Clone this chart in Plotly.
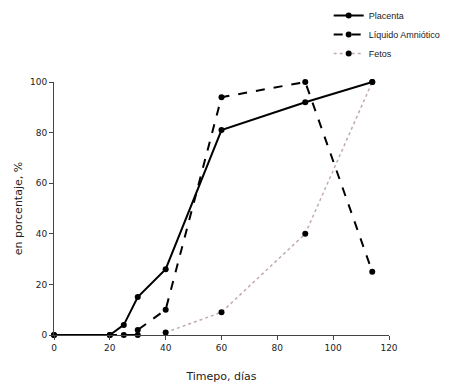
import plotly.graph_objects as go

placenta_x = [0, 20, 25, 30, 40, 60, 90, 114]
placenta_y = [0, 0, 4, 15, 26, 81, 92, 100]

liquido_x = [0, 20, 25, 30, 30, 40, 60, 90, 114]
liquido_y = [0, 0, 0, 0, 2, 10, 94, 100, 25]

fetos_x = [40, 60, 90, 114]
fetos_y = [1, 9, 40, 100]

font = dict(family="DejaVu Sans", size=9, color="#222")

fig = go.Figure()
fig.add_trace(go.Scatter(x=placenta_x, y=placenta_y, name="Placenta", mode="lines+markers",
                         line=dict(color="black", width=2), marker=dict(size=6, color="black"),
                         cliponaxis=False))
fig.add_trace(go.Scatter(x=liquido_x, y=liquido_y, name="Líquido Amniótico", mode="lines+markers",
                         line=dict(color="black", width=2, dash="dash"), marker=dict(size=6, color="black"),
                         cliponaxis=False))
fig.add_trace(go.Scatter(x=fetos_x, y=fetos_y, name="Fetos", mode="lines+markers",
                         line=dict(color="#c0a8b8", width=1.5, dash="dot"), marker=dict(size=6, color="black"),
                         cliponaxis=False))

fig.update_layout(
    width=450, height=388,
    margin=dict(l=46, r=69, t=74, b=61, autoexpand=False),
    paper_bgcolor="white", plot_bgcolor="white",
    font=font,
    showlegend=True,
    legend=dict(x=0.82, y=1.32, xanchor="left", yanchor="top",
                font=dict(family="Liberation Sans", size=9, color="#222"),
                bgcolor="rgba(0,0,0,0)", tracegroupgap=0, itemwidth=30),
    xaxis=dict(range=[0, 120], tickvals=[0, 20, 40, 60, 80, 100, 120], showgrid=False, zeroline=False,
               showline=True, linecolor="#444", linewidth=1, ticks="outside", ticklen=4, tickcolor="#444",
               title=dict(text="Timepo, días", standoff=20), automargin=False),
    yaxis=dict(range=[0, 100], tickvals=[0, 20, 40, 60, 80, 100], showgrid=False, zeroline=False,
               showline=True, linecolor="#444", linewidth=1, ticks="outside", ticklen=4, tickcolor="#444",
               title=dict(text="en porcentaje, %", standoff=5), automargin=False),
)

fig.write_html("out.html")
